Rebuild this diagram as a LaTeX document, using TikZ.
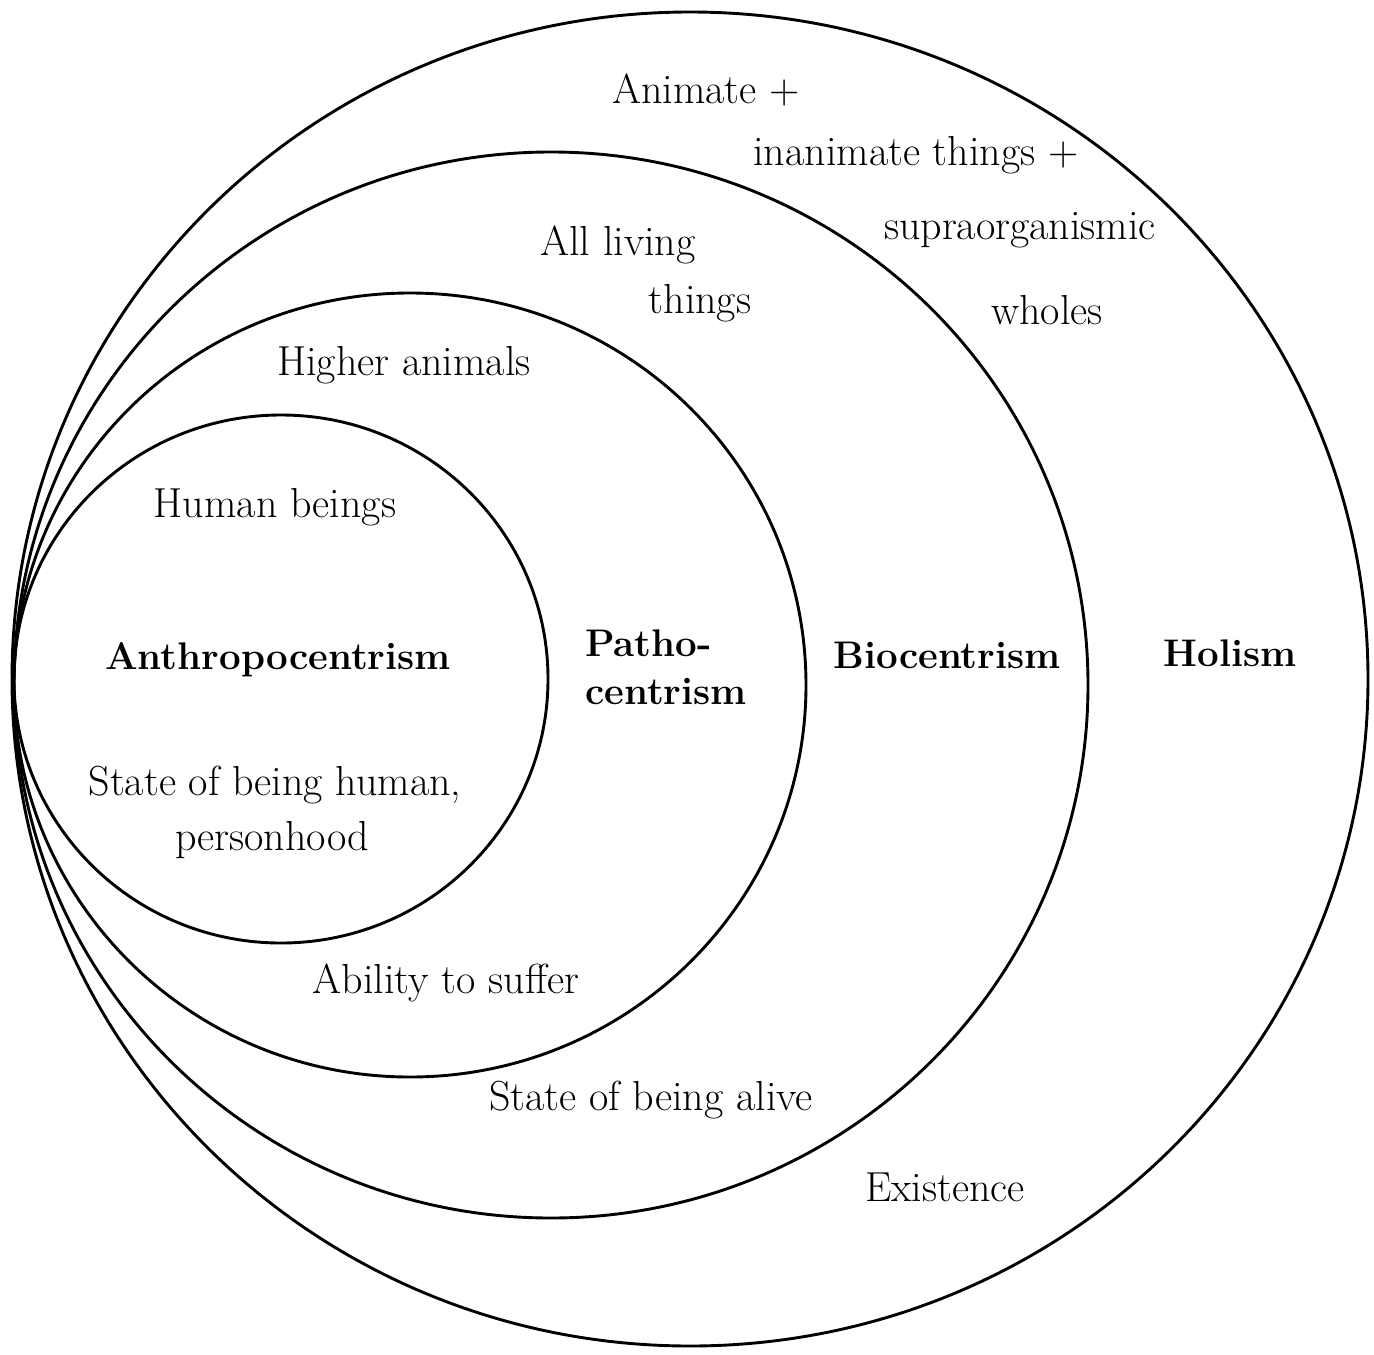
\documentclass[tikz,border=0pt]{standalone}
\begin{document}
\begin{tikzpicture}[x=1pt,y=-1pt,
  ring/.style={line width=2.9pt},
  lbl/.style={inner sep=0pt,font=\fontsize{42}{48}\selectfont},
  blbl/.style={inner sep=0pt,font=\fontsize{38.5}{46}\selectfont\bfseries}]
\useasboundingbox (0,0) rectangle (1374,1355);
% nested ellipses, all tangent at the left
\draw[ring] (690,679) ellipse [x radius=678, y radius=667];
\draw[ring] (551,685) ellipse [x radius=537, y radius=533];
\draw[ring] (410,685) ellipse [x radius=396, y radius=392];
\draw[ring] (281,679) ellipse [x radius=267, y radius=264];
% texts
\node[lbl] (animate) at (706,90) {Animate +};
\node[lbl] (inanimate) at (916,155) {inanimate things +};
\node[lbl] (supra) at (1020,230) {supraorganismic};
\node[lbl] (wholes) at (1047,310) {wholes};
\node[lbl] (allliving) at (618,245) {All living};
\node[lbl] (things) at (700,303) {things};
\node[lbl] (higher) at (404,365) {Higher animals};
\node[lbl] (human) at (275,507) {Human beings};
\node[blbl] (anthro) at (278,660) {Anthropocentrism};
\node[blbl,anchor=west] (patho) at (585,643) {Patho-};
\node[blbl,anchor=west] (centrism) at (585,692) {centrism};
\node[blbl] (bio) at (947,655) {Biocentrism};
\node[blbl] (holism) at (1230,653) {Holism};
\node[lbl] (statehuman) at (275,785) {State of being human,};
\node[lbl] (person) at (272,840) {personhood};
\node[lbl] (suffer) at (446,983) {Ability to suffer};
\node[lbl] (alive) at (651,1100) {State of being alive};
\node[lbl] (exist) at (945,1187) {Existence};
\end{tikzpicture}
\end{document}
